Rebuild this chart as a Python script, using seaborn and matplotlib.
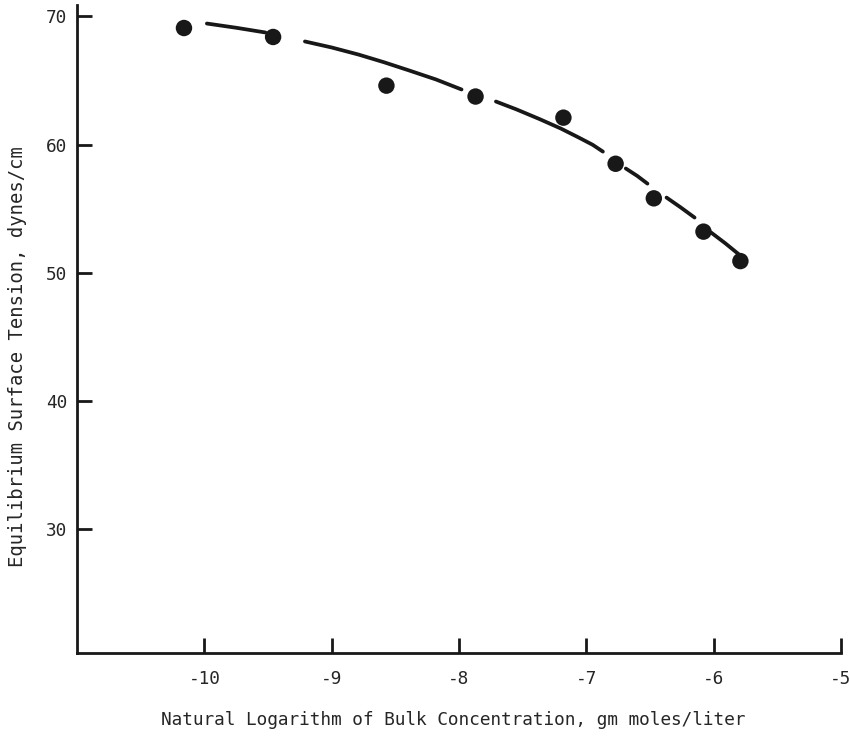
import numpy as np
import pandas as pd
import matplotlib
matplotlib.use("Agg")
import matplotlib.pyplot as plt
import seaborn as sns

# Measured points: ln(bulk concentration) vs equilibrium surface tension
ln_conc = [-10.16, -9.46, -8.57, -7.87, -7.18, -6.77, -6.47, -6.08, -5.79]
tension = [69.1, 68.4, 64.6, 63.75, 62.1, 58.5, 55.8, 53.2, 50.9]

# Smoothed trend curve, drawn as broken pieces between the markers
curve_segments = [
    ([-9.98, -9.75, -9.52], [69.45, 69.12, 68.75]),
    ([-9.21, -9.00, -8.79, -8.59, -8.39, -8.18, -7.98],
     [68.05, 67.58, 67.03, 66.43, 65.78, 65.08, 64.30]),
    ([-7.71, -7.55, -7.37, -7.20, -7.06, -6.95, -6.87],
     [63.36, 62.75, 62.00, 61.25, 60.55, 59.98, 59.45]),
    ([-6.69, -6.60, -6.52], [58.13, 57.55, 56.95]),
    ([-6.37, -6.26, -6.15], [55.86, 55.10, 54.30]),
    ([-6.02, -5.91, -5.80], [53.13, 52.30, 51.41]),
]

x_ticks = [-10, -9, -8, -7, -6, -5]
y_ticks = [30, 40, 50, 60, 70]

points = pd.DataFrame({"x": ln_conc, "y": tension})
curve = pd.DataFrame(
    [(i, cx, cy) for i, (xs, ys) in enumerate(curve_segments) for cx, cy in zip(xs, ys)],
    columns=["seg", "x", "y"],
)

sns.set_theme(style="ticks")
plt.rcParams["font.family"] = ["DejaVu Sans Mono", "DejaVu Sans"]
ink = "#181818"
text_ink = "#262626"

fig = plt.figure(figsize=(8.5, 7.41), dpi=100)
ax = fig.add_axes([0.0906, 0.1188, 0.8988, 0.8745])

sns.lineplot(data=curve, x="x", y="y", units="seg", estimator=None, sort=False,
             color=ink, linewidth=2.7, ax=ax, legend=False)
sns.scatterplot(data=points, x="x", y="y", color=ink, s=140, edgecolor="none",
                ax=ax, legend=False, zorder=3)

ax.set_xlim(-11.0, -5.0)
ax.set_ylim(20.3, 70.9)
ax.set_xticks(x_ticks)
ax.set_yticks(y_ticks)
ax.set_xticklabels([f"-{abs(t)}" for t in x_ticks])

sns.despine(ax=ax)
for side in ("left", "bottom"):
    ax.spines[side].set_linewidth(2.0)
    ax.spines[side].set_color(ink)

ax.tick_params(axis="both", direction="in", length=11, width=2.0, color=ink,
               labelsize=12.8, labelcolor=text_ink)
ax.tick_params(axis="x", pad=12)
ax.tick_params(axis="y", pad=7)

ax.set_xlabel("Natural Logarithm of Bulk Concentration, gm moles/liter",
              fontsize=12.8, color=text_ink)
ax.set_ylabel("Equilibrium Surface Tension, dynes/cm",
              fontsize=13.6, color=text_ink)
ax.xaxis.set_label_coords(0.492, -0.089)
ax.yaxis.set_label_coords(-0.066, 0.457)

fig.savefig("out.png", dpi=100, facecolor="white")
